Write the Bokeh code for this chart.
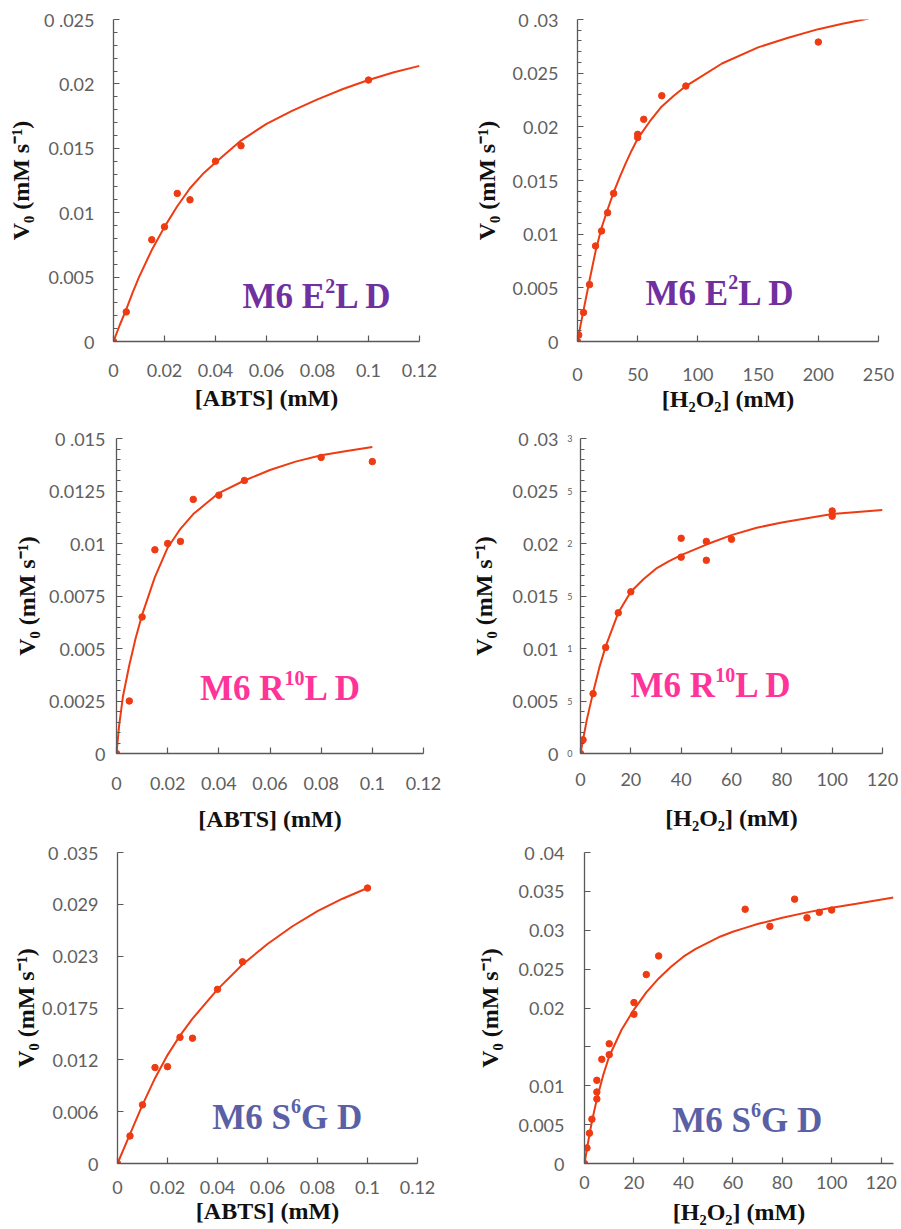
from bokeh.plotting import figure
from bokeh.layouts import column, row
from bokeh.models import Label, FixedTicker, Range1d, LinearAxis
from bokeh.embed import file_html
from bokeh.resources import INLINE

RED = "#EE3B12"
AXIS_GREY = "#595959"

# ---------------- data ----------------
# Panel A : [ABTS], M6 E2L D
a_x = [0, 0.005, 0.015, 0.02, 0.025, 0.03, 0.04, 0.05, 0.1]
a_y = [0, 0.0023, 0.0079, 0.0089, 0.0115, 0.0110, 0.0140, 0.0152, 0.0203]
a_fit_x = [0, 0.0025, 0.005, 0.0075, 0.01, 0.015, 0.02, 0.025, 0.03, 0.035, 0.04, 0.05,
           0.06, 0.07, 0.08, 0.09, 0.1, 0.11, 0.12]
a_fit_y = [0, 0.0013, 0.0025, 0.0038, 0.0050, 0.0071, 0.0089, 0.0105, 0.0119, 0.0130,
           0.0139, 0.0156, 0.0169, 0.0179, 0.0188, 0.0196, 0.0203, 0.0209, 0.0214]

# Panel B : [H2O2], M6 E2L D
b_x = [0, 1, 5, 10, 15, 20, 25, 30, 50, 50, 55, 70, 90, 200]
b_y = [0, 0.0006, 0.0027, 0.0053, 0.0089, 0.0103, 0.0120, 0.0138, 0.0193, 0.0190,
       0.0207, 0.0229, 0.0238, 0.0279]
b_fit_x = [0, 1, 2.5, 5, 10, 15, 20, 25, 30, 35, 40, 45, 50, 60, 70, 80, 90, 100, 120,
           150, 175, 200, 220, 242]
b_fit_y = [0, 0.0006, 0.0015, 0.0029, 0.0057, 0.0084, 0.0106, 0.0123, 0.0139, 0.0153,
           0.0166, 0.0178, 0.0189, 0.0205, 0.0219, 0.0229, 0.0238, 0.0245, 0.0259,
           0.0274, 0.0283, 0.0291, 0.0296, 0.0301]

# Panel C : [ABTS], M6 R10L D
c_x = [0, 0.005, 0.01, 0.015, 0.02, 0.025, 0.03, 0.04, 0.05, 0.08, 0.1]
c_y = [0, 0.0025, 0.0065, 0.0097, 0.0100, 0.0101, 0.0121, 0.0123, 0.0130, 0.0141, 0.0139]
c_fit_x = [0, 0.001, 0.0025, 0.005, 0.0075, 0.01, 0.015, 0.02, 0.025, 0.03, 0.035, 0.04,
           0.05, 0.06, 0.07, 0.08, 0.09, 0.1]
c_fit_y = [0, 0.0013, 0.0027, 0.0042, 0.0055, 0.0066, 0.0084, 0.0098, 0.0107, 0.0114,
           0.0119, 0.0124, 0.0130, 0.0135, 0.0139, 0.0142, 0.0144, 0.0146]

# Panel D : [H2O2], M6 R10L D
d_x = [0, 1, 5, 10, 15, 20, 40, 40, 50, 50, 60, 100, 100]
d_y = [0, 0.0013, 0.0057, 0.0101, 0.0134, 0.0154, 0.0205, 0.0187, 0.0202, 0.0184,
       0.0204, 0.0231, 0.0226]
d_fit_x = [0, 1, 2.5, 5, 7.5, 10, 15, 20, 25, 30, 35, 40, 45, 50, 60, 70, 80, 90, 100,
           110, 120]
d_fit_y = [0, 0.0013, 0.0032, 0.0058, 0.0082, 0.0102, 0.0134, 0.0154, 0.0166, 0.0176,
           0.0183, 0.0189, 0.0194, 0.0199, 0.0208, 0.0215, 0.0220, 0.0224, 0.0228,
           0.0230, 0.0232]

# Panel E : [ABTS], M6 S6G D
e_x = [0, 0.005, 0.01, 0.015, 0.02, 0.025, 0.03, 0.04, 0.05, 0.1]
e_y = [0, 0.0031, 0.0066, 0.0108, 0.0109, 0.0142, 0.0141, 0.0196, 0.0227, 0.0310]
e_fit_x = [0, 0.005, 0.01, 0.015, 0.02, 0.025, 0.03, 0.04, 0.05, 0.06, 0.07, 0.08, 0.09, 0.1]
e_fit_y = [0, 0.0033, 0.0066, 0.0096, 0.0122, 0.0144, 0.0163, 0.0196, 0.0224, 0.0247,
           0.0267, 0.0284, 0.0298, 0.0310]

# Panel F : [H2O2], M6 S6G D
f_x = [0, 1, 2, 3, 5, 5, 5, 7, 10, 10, 20, 20, 25, 30, 65, 75, 85, 90, 95, 100]
f_y = [0, 0.0020, 0.0039, 0.0057, 0.0083, 0.0092, 0.0107, 0.0134, 0.0140, 0.0154,
       0.0192, 0.0207, 0.0243, 0.0267, 0.0327, 0.0305, 0.0340, 0.0316, 0.0323, 0.0326]
f_fit_x = [0, 1, 2, 3, 5, 7.5, 10, 15, 20, 25, 30, 35, 40, 45, 50, 55, 60, 65, 70, 80,
           90, 100, 110, 125]
f_fit_y = [0, 0.0019, 0.0037, 0.0054, 0.0083, 0.0113, 0.0138, 0.0172, 0.0198, 0.0220,
           0.0238, 0.0253, 0.0266, 0.0276, 0.0284, 0.0292, 0.0298, 0.0303, 0.0308,
           0.0316, 0.0323, 0.0329, 0.0334, 0.0342]

# ---------------- tick labels ----------------
abts_xticks = [0, 0.02, 0.04, 0.06, 0.08, 0.1, 0.12]
abts_xlabels = ["0", "0.02", "0.04", "0.06", "0.08", "0.1", "0.12"]
b_xticks = [0, 50, 100, 150, 200, 250]
b_xlabels = ["0", "50", "100", "150", "200", "250"]
h2o2_xticks = [0, 20, 40, 60, 80, 100, 120]
h2o2_xlabels = ["0", "20", "40", "60", "80", "100", "120"]

a_yticks = [0, 0.005, 0.01, 0.015, 0.02, 0.025]
a_ylabels = ["0", "0.005", "0.01", "0.015", "0.02", "0 .025"]
b_yticks = [0, 0.005, 0.01, 0.015, 0.02, 0.025, 0.03]
b_ylabels = ["0", "0.005", "0.01", "0.015", "0.02", "0.025", "0 .03"]
c_yticks = [0, 0.0025, 0.005, 0.0075, 0.01, 0.0125, 0.015]
c_ylabels = ["0", "0.0025", "0.005", "0.0075", "0.01", "0.0125", "0 .015"]
d_yticks = [0, 0.005, 0.01, 0.015, 0.02, 0.025, 0.03]
d_ylabels = ["0", "0.005", "0.01", "0.015", "0.02", "0.025", "0 .03"]
d_ysmall = ["0", "5", "1", "5", "2", "5", "3"]
e_yticks = [0, 0.005833, 0.011667, 0.0175, 0.023333, 0.029167, 0.035]
e_ylabels = ["0", "0.006", "0.012", "0.0175", "0.023", "0.029", "0 .035"]
f_yticks = [0, 0.005, 0.01, 0.015, 0.02, 0.025, 0.03, 0.035, 0.04]
f_ylabels = ["0", "0.005", "0.01", "", "0.02", "0.025", "0.03", "0.035", "0 .04"]

ABTS_TITLE = "[ABTS] (mM)"
H2O2_TITLE = "[H\u2082O\u2082] (mM)"
Y_TITLE = "V\u2080 (mM s\u207b\u00b9)"

PURPLE = "#7030A0"
PINK = "#FF3399"
SLATE = "#5A60A6"


def minor_between(ticks, n):
    out = []
    if n <= 1:
        return out
    for a, b in zip(ticks[:-1], ticks[1:]):
        for k in range(1, n):
            out.append(a + (b - a) * k / n)
    return out


def style_axis(ax):
    ax.axis_line_color = AXIS_GREY
    ax.axis_line_width = 1.3
    ax.major_tick_line_color = AXIS_GREY
    ax.minor_tick_line_color = AXIS_GREY
    ax.major_tick_line_width = 1.2
    ax.minor_tick_line_width = 1.2
    ax.major_tick_in = 6
    ax.major_tick_out = 0
    ax.minor_tick_in = 4
    ax.minor_tick_out = 0
    ax.major_label_text_font = "Lato"
    ax.major_label_text_font_size = "18px"
    ax.major_label_text_color = "#606060"
    ax.axis_label_text_font = "Liberation Serif"
    ax.axis_label_text_font_style = "bold"
    ax.axis_label_text_color = "#111111"


def panel(w, h, borders, xr, yr, xt, xl, yt, yl, nminor, xtitle,
          xstand, xlstand, ystand, ylstand, fx, fy, px, py):
    p = figure(width=w, height=h, x_range=Range1d(*xr), y_range=Range1d(*yr),
               output_backend="svg", toolbar_location=None,
               min_border_left=borders[0], min_border_right=borders[1],
               min_border_top=borders[2], min_border_bottom=borders[3])
    p.outline_line_color = None
    p.xgrid.visible = False
    p.ygrid.visible = False
    p.background_fill_color = "white"
    p.border_fill_color = "white"

    p.line(fx, fy, line_color=RED, line_width=2)
    p.scatter(px, py, size=6.5, color=RED)

    xa = p.xaxis[0]
    xa.ticker = FixedTicker(ticks=xt, minor_ticks=[])
    xa.major_label_overrides = {t: s for t, s in zip(xt, xl)}
    ya = p.yaxis[0]
    ya.ticker = FixedTicker(ticks=yt, minor_ticks=minor_between(yt, nminor))
    ya.major_label_overrides = {t: s for t, s in zip(yt, yl)}
    style_axis(xa)
    style_axis(ya)

    xa.axis_label = xtitle
    xa.axis_label_text_font_size = "24px"
    xa.major_label_standoff = xstand
    xa.axis_label_standoff = xlstand
    ya.axis_label = Y_TITLE
    ya.axis_label_text_font_size = "24px"
    ya.major_label_standoff = ystand
    ya.axis_label_standoff = ylstand
    return p


def name_label(p, x, y, parts, color, size=35, sup=20, rise=11):
    (t1, w1), (t2, w2), t3 = parts
    common = dict(text_font="Liberation Serif", text_font_style="bold",
                  text_color=color, text_baseline="alphabetic")
    p.add_layout(Label(x=x, y=y, text=t1, text_font_size=f"{size}px", **common))
    p.add_layout(Label(x=x, y=y, x_offset=w1 * size, y_offset=rise, text=t2,
                       text_font_size=f"{sup}px", **common))
    p.add_layout(Label(x=x, y=y, x_offset=w1 * size + w2 * sup, text=t3,
                       text_font_size=f"{size}px", **common))


# page rows: 0..420, 420..835, 835..1227 ; columns: 0..449, 449..899
pA = panel(449, 420, (113, 30, 17, 78), (0, 0.12), (0, 0.025), abts_xticks, abts_xlabels,
           a_yticks, a_ylabels, 5, ABTS_TITLE, 22, 5, 19, 7, a_fit_x, a_fit_y, a_x, a_y)
pB = panel(450, 420, (128, 21, 19, 79), (0, 250), (0, 0.03), b_xticks, b_xlabels,
           b_yticks, b_ylabels, 5, H2O2_TITLE, 26, 2, 19, 9, b_fit_x, b_fit_y, b_x, b_y)
pC = panel(449, 415, (116, 26, 18, 82), (0, 0.12), (0, 0.015), abts_xticks, abts_xlabels,
           c_yticks, c_ylabels, 5, ABTS_TITLE, 23, 13, 11, 6, c_fit_x, c_fit_y, c_x, c_y)
pD = panel(450, 415, (131, 17, 17, 78), (0, 120), (0, 0.03), h2o2_xticks, h2o2_xlabels,
           d_yticks, d_ylabels, 5, H2O2_TITLE, 19, 16, 6, 12, d_fit_x, d_fit_y, d_x, d_y)
pE = panel(449, 392, (117, 32, 17, 60), (0, 0.12), (0, 0.035), abts_xticks, abts_xlabels,
           e_yticks, e_ylabels, 0, ABTS_TITLE, 17, 1, 19, 0, e_fit_x, e_fit_y, e_x, e_y)
pF = panel(450, 392, (135, 6, 14, 62), (0, 125), (0, 0.04), h2o2_xticks, h2o2_xlabels,
           f_yticks, f_ylabels, 0, H2O2_TITLE, 12, 7, 20, 12, f_fit_x, f_fit_y, f_x, f_y)

# panel D: inner axis carrying the axis line, ticks and the small stray digits;
# the regular axis (outer) keeps the large labels and the title.
d_inner = LinearAxis(ticker=FixedTicker(ticks=d_yticks, minor_ticks=minor_between(d_yticks, 5)),
                     major_label_overrides={t: s for t, s in zip(d_yticks, d_ysmall)})
style_axis(d_inner)
d_inner.major_label_text_font_size = "9px"
d_inner.major_label_standoff = 8
d_outer = pD.yaxis[0]
d_outer.axis_line_color = None
d_outer.major_tick_line_color = None
d_outer.minor_tick_line_color = None
pD.left = [d_inner, d_outer]

name_label(pA, 0.0506, 0.00348, (("M6 E", 2.361), ("2", 0.5), "L D"), PURPLE)
name_label(pB, 56.5, 0.0045, (("M6 E", 2.361), ("2", 0.5), "L D"), PURPLE)
name_label(pC, 0.0326, 0.00308, (("M6 R", 2.416), ("10", 1.0), "L D"), PINK)
name_label(pD, 19.9, 0.00644, (("M6 R", 2.416), ("10", 1.0), "L D"), PINK)
name_label(pE, 0.0379, 0.00522, (("M6 S", 2.25), ("6", 0.5), "G D"), SLATE)
name_label(pF, 35.5, 0.00548, (("M6 S", 2.25), ("6", 0.5), "G D"), SLATE)

layout = column(row(pA, pB), row(pC, pD), row(pE, pF))

with open("out.html", "w") as fh:
    fh.write(file_html(layout, INLINE))
